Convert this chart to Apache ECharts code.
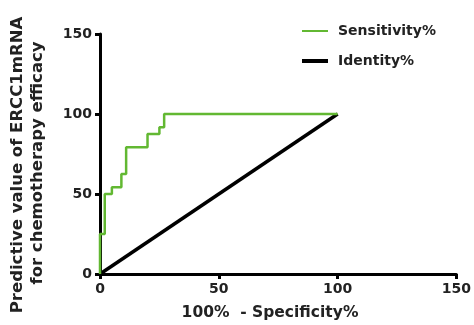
<!DOCTYPE html>
<html><head><meta charset="utf-8">
<script src="https://cdn.jsdelivr.net/npm/echarts@6/dist/echarts.min.js"></script>
<style>html,body{margin:0;padding:0;background:#fff}#c{width:474px;height:325px}</style>
</head><body><div id="c"></div>
<script>
// ROC curve corner points (100% - Specificity%, Sensitivity%)
const fpr = [0, 0, 2, 2, 5, 5, 9, 9, 11, 11, 20, 20, 25, 25, 27, 27, 100];
const sens = [0, 25, 25, 50, 50, 54.2, 54.2, 62.5, 62.5, 79.2, 79.2, 87.5, 87.5, 91.7, 91.7, 100, 100];
const identityX = [0, 100];
const identityY = [0, 100];
const seriesNames = ['Sensitivity%', 'Identity%'];
const xTitle = '100%  - Specificity%';
const yTitle = ['Predictive value of ERCC1mRNA', 'for chemotherapy efficacy'];

const chart = echarts.init(document.getElementById('c'));
const font = 'DejaVu Sans, Verdana, sans-serif';
const axisCommon = {
  type: 'value', min: 0, max: 150, interval: 50,
  axisLine: {show: true, onZero: false, lineStyle: {color: '#000', width: 3}},
  axisTick: {show: true, length: 5, lineStyle: {color: '#000', width: 3}},
  splitLine: {show: false},
  axisLabel: {color: '#222', fontSize: 14, fontWeight: 'bold', fontFamily: font, margin: 8}
};
const legendText = {color: '#222', fontSize: 14, fontWeight: 'bold', fontFamily: font, padding: [0, 0, 0, 5]};
chart.setOption({
  animation: false,
  grid: {left: 100, top: 34, width: 357, height: 240, containLabel: false},
  xAxis: Object.assign({}, axisCommon),
  yAxis: Object.assign({}, axisCommon),
  legend: [
    {orient: 'vertical', left: 297, top: 19, itemWidth: 26, itemHeight: 2, icon: 'rect',
     textStyle: legendText, data: [seriesNames[0]]},
    {orient: 'vertical', left: 297, top: 49, itemWidth: 26, itemHeight: 4, icon: 'rect',
     textStyle: legendText, data: [seriesNames[1]]}
  ],
  graphic: [
    {type: 'text', x: 270, y: 313, style: {text: xTitle, fill: '#222', font: 'bold 15.5px ' + font, textAlign: 'center', textVerticalAlign: 'middle'}},
    {type: 'text', x: 18, y: 165, rotation: Math.PI / 2, style: {text: yTitle[0], fill: '#222', font: 'bold 16.5px ' + font, textAlign: 'center', textVerticalAlign: 'middle'}},
    {type: 'text', x: 38, y: 163, rotation: Math.PI / 2, style: {text: yTitle[1], fill: '#222', font: 'bold 16.5px ' + font, textAlign: 'center', textVerticalAlign: 'middle'}}
  ],
  series: [
    {name: seriesNames[0], type: 'line', symbol: 'none', z: 4,
     data: fpr.map((x, i) => [x, sens[i]]),
     lineStyle: {color: '#62b832', width: 2.5}, itemStyle: {color: '#62b832'}},
    {name: seriesNames[1], type: 'line', symbol: 'none', z: 3,
     data: identityX.map((x, i) => [x, identityY[i]]),
     lineStyle: {color: '#000', width: 3.5}, itemStyle: {color: '#000'}}
  ]
});
</script></body></html>
